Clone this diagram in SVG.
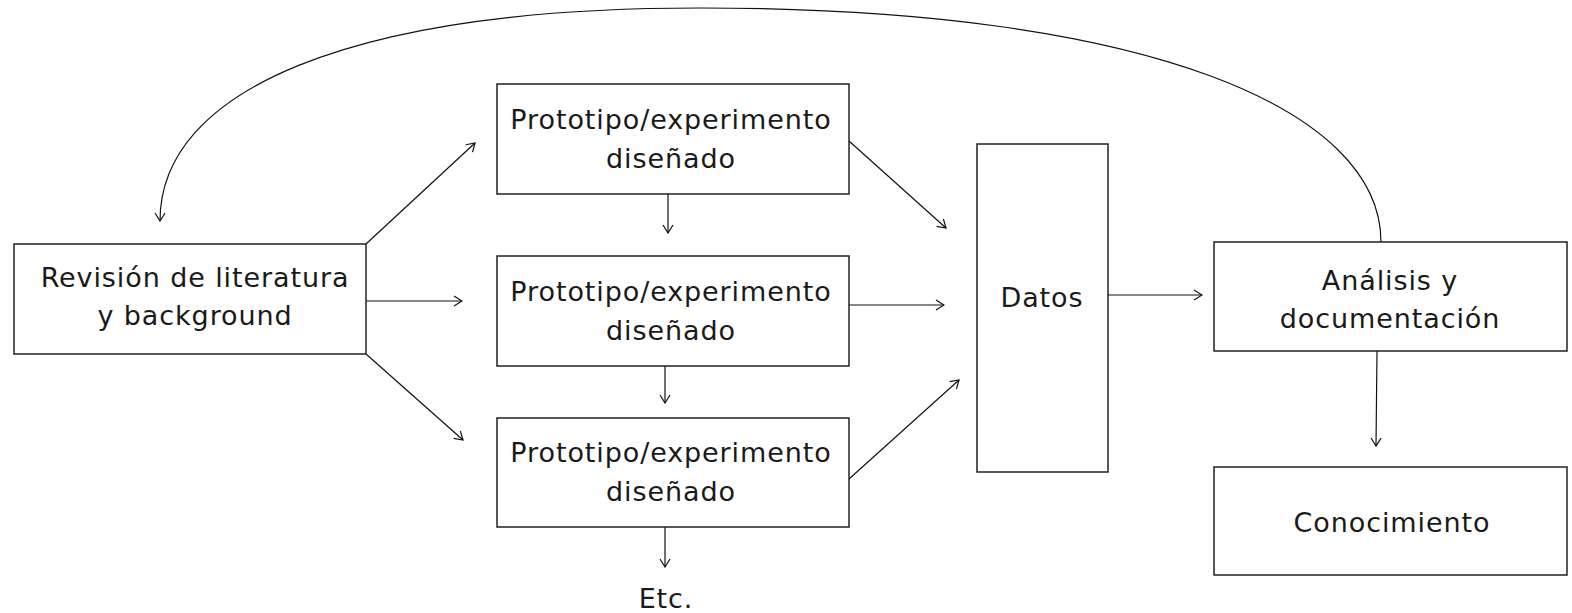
<svg xmlns="http://www.w3.org/2000/svg" width="1572" height="613" viewBox="0 0 1572 613">
<style>
.box{fill:#fff;stroke:#222;stroke-width:1.5}
.t{font-family:"DejaVu Sans","Noto Sans",sans-serif;font-size:27px;letter-spacing:0.9px;fill:#1a1a1a;text-anchor:middle;dominant-baseline:central}
.c{fill:none;stroke:#111;stroke-width:1.2;marker-end:url(#a)}
</style>
<defs>
<marker id="a" markerWidth="10" markerHeight="12" refX="9" refY="6" orient="auto" markerUnits="userSpaceOnUse">
<path d="M1,1 L9,6 L1,11" fill="none" stroke="#111" stroke-width="1.2"/>
</marker>
</defs>
<rect width="1572" height="613" fill="#fff"/>
<g id="connectors">
<path class="c" d="M366,244 L475,143"/>
<path class="c" d="M366,301 L462,301"/>
<path class="c" d="M366,354 L463,440"/>
<path class="c" d="M668,194 L668,233"/>
<path class="c" d="M665,366 L665,403"/>
<path class="c" d="M665,527 L665,567"/>
<path class="c" d="M849,141 L946,228"/>
<path class="c" d="M849,305 L944,305"/>
<path class="c" d="M849,479 L959,380"/>
<path class="c" d="M1108,295 L1202,295"/>
<path class="c" d="M1377,351 L1376,446"/>
<path class="c" d="M1381,242 C1381,110 1150,8 700,8 C350,8 160,90 160,221"/>
</g>
<g id="revision">
<rect class="box" x="14" y="244" width="352" height="110"/>
<text class="t" x="195" y="277">Revisión de literatura</text>
<text class="t" x="195" y="315">y background</text>
</g>
<g id="proto1">
<rect class="box" x="497" y="84" width="352" height="110"/>
<text class="t" x="671" y="119">Prototipo/experimento</text>
<text class="t" x="671" y="158">diseñado</text>
</g>
<g id="proto2">
<rect class="box" x="497" y="256" width="352" height="110"/>
<text class="t" x="671" y="291">Prototipo/experimento</text>
<text class="t" x="671" y="330">diseñado</text>
</g>
<g id="proto3">
<rect class="box" x="497" y="418" width="352" height="109"/>
<text class="t" x="671" y="452">Prototipo/experimento</text>
<text class="t" x="671" y="491">diseñado</text>
</g>
<g id="etc">
<text class="t" x="666" y="598">Etc.</text>
</g>
<g id="datos">
<rect class="box" x="977" y="144" width="131" height="328"/>
<text class="t" x="1042" y="297">Datos</text>
</g>
<g id="analisis">
<rect class="box" x="1214" y="242" width="353" height="109"/>
<text class="t" x="1390" y="280">Análisis y</text>
<text class="t" x="1390" y="318">documentación</text>
</g>
<g id="conocimiento">
<rect class="box" x="1214" y="467" width="353" height="108"/>
<text class="t" x="1392" y="522">Conocimiento</text>
</g>
</svg>
